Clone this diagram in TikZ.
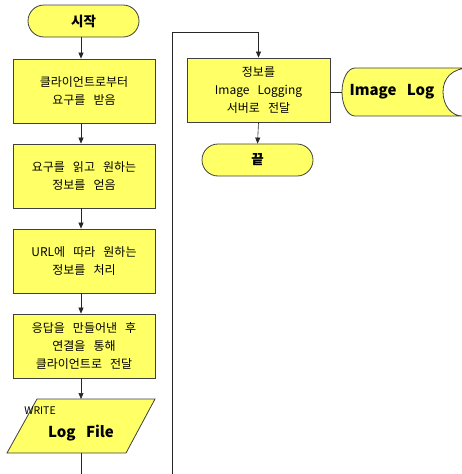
\documentclass[tikz,border=0pt]{standalone}
\usepackage{fontspec}
\setmainfont{Noto Sans CJK KR}[WordSpace=3]
\usetikzlibrary{arrows.meta}
\definecolor{flowyellow}{HTML}{FFFF66}
\begin{document}
\begin{tikzpicture}[x=1pt,y=-1pt,
  every node/.style={inner sep=0pt},
  outline/.style={draw=black!75, line width=0.8pt, fill=flowyellow},
  flowline/.style={draw=black!85, line width=0.6pt},
  arr/.style={flowline, -{Triangle[length=6pt,width=5pt]}},
  box/.style={outline, align=center, font=\fontsize{12}{18}\selectfont,
    minimum width=142pt, minimum height=64pt},
  term/.style={outline, rounded corners=16pt, minimum width=111pt,
    minimum height=32pt, font=\bfseries\fontsize{13.5}{15}\selectfont},
  bigtext/.style={font=\bfseries\fontsize{15}{17}\selectfont},
]
\useasboundingbox (0,0) rectangle (462,474);
\clip (0,0) rectangle (462,474);

% main column
\coordinate (spine) at (81,0);
\node[term] (start) at (83.5,21) {시작};
\node[box] (recv) at (84,91) {클라이언트로부터\\요구를 받음};
\node[box] (read) at (84,176) {요구를 읽고 원하는\\정보를 얻음};
\node[box] (proc) at (84,261) {URL에 따라 원하는\\정보를 처리};
\node[box] (resp) at (84,346) {응답을 만들어낸 후\\연결을 통해\\클라이언트로 전달};

% output parallelogram
\path[outline] (37,399) -- (155,399) -- (126,453) -- (7,453) -- cycle;
\coordinate (logtop) at (81,399);
\coordinate (logbottom) at (81,453);
\node[font=\fontsize{10.5}{12}\selectfont] (write) at (40,411) {WRITE};
\node[bigtext] (logfile) at (81,433) {Log File};

\draw[arr] (start.south -| spine) -- (recv.north -| spine);
\draw[arr] (recv.south -| spine) -- (read.north -| spine);
\draw[arr] (read.south -| spine) -- (proc.north -| spine);
\draw[arr] (proc.south -| spine) -- (resp.north -| spine);
\draw[arr] (resp.south -| spine) -- (logtop);

% second column
\node[box, minimum width=143pt] (send) at (258.5,90) {정보를\\Image Logging\\서버로 전달};
\node[term] (finish) at (257.5,160) {끝};
\draw[arr] (send.south) -- (finish.north);

% stored data symbol
\path[outline] (355,68) -- (470,68) -- (470,68)
  .. controls (451.5,68) and (443,78.7) .. (443,92)
  .. controls (443,105.3) and (451.5,116) .. (462,116)
  -- (355,116)
  .. controls (347.8,116) and (342,105.3) .. (342,92)
  .. controls (342,78.7) and (347.8,68) .. (355,68) -- cycle;
\coordinate (logleft) at (342,92);
\node[bigtext] (imagelog) at (392,92) {Image Log};
\draw[flowline] (send.east |- logleft) -- (logleft);

% loop back to the second column
\coordinate (lowturn) at (172,500);
\coordinate (topturn) at (send.north |- 0,32);
\draw[arr] (logbottom) |- (lowturn) |- (topturn) -- (send.north);
\end{tikzpicture}
\end{document}
